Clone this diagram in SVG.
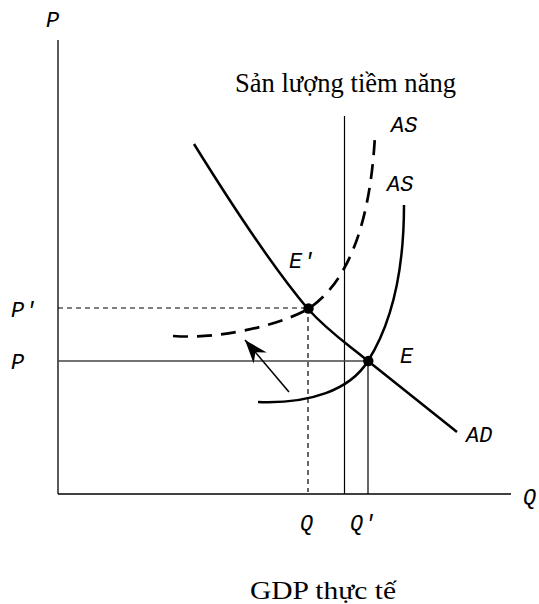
<svg xmlns="http://www.w3.org/2000/svg" width="539" height="604" viewBox="0 0 539 604">
<defs>
<style>
.ax{stroke:#000;stroke-width:1.3;fill:none}
.thin{stroke:#000;stroke-width:1.2;fill:none}
.dsh{stroke:#000;stroke-width:1.2;fill:none;stroke-dasharray:5 4}
.crv{stroke:#000;stroke-width:2.5;fill:none;stroke-linecap:butt}
.crvd{stroke:#000;stroke-width:2.7;fill:none;stroke-dasharray:15 9}
.lbl{font-family:"Liberation Mono","Courier New",monospace;font-style:italic;font-size:22px;fill:#000}
.ser{font-family:"Liberation Serif","Times New Roman",serif;fill:#000}
</style>
<marker id="ah" markerUnits="userSpaceOnUse" markerWidth="30" markerHeight="30" refX="0" refY="0" viewBox="-24 -12 28 24" orient="auto">
<path d="M0,0 L-22,-8 L-15,0 L-22,8 Z" fill="#000"/>
</marker>
</defs>
<g id="axes">
<line class="ax" x1="58" y1="40" x2="58" y2="494"/>
<line class="ax" x1="58" y1="494" x2="511" y2="494"/>
<text class="lbl" x="46" y="27">P</text>
<text class="lbl" x="523" y="504">Q</text>
</g>
<g id="potential">
<line class="thin" x1="344.5" y1="116" x2="344.5" y2="494"/>
<text class="ser" x="235" y="92" font-size="27" textLength="221" lengthAdjust="spacingAndGlyphs">Sản lượng tiềm năng</text>
</g>
<g id="connectors">
<line class="dsh" x1="58" y1="308" x2="308" y2="308"/>
<line class="dsh" x1="308" y1="308" x2="308" y2="492"/>
<line x1="58" y1="361" x2="368" y2="361" stroke="#444" stroke-width="1.6"/>
<line class="thin" x1="368" y1="361" x2="368" y2="494"/>
<line x1="289" y1="392" x2="245" y2="340" stroke="#000" stroke-width="1.6" marker-end="url(#ah)"/>
</g>
<g id="AD">
<path class="crv" d="M194,144 C235,210 275,270 308,309 C330,333 345,342 368,361 L457,432"/>
<text class="lbl" x="466" y="442">AD</text>
</g>
<g id="AS2">
<path class="crvd" d="M173,336 C230,340 290,320 308,309 C345,285 370,230 375,135"/>
<text class="lbl" x="391" y="132">AS</text>
</g>
<g id="AS1">
<path class="crv" d="M258,402 C310,404 350,390 368,361 C395,318 404,260 404,205"/>
<text class="lbl" x="387" y="191">AS</text>
</g>
<g id="Eprime">
<circle cx="308.5" cy="308.5" r="5.2" fill="#000"/>
<text class="lbl" x="289" y="268">E′</text>
<text class="lbl" x="11" y="317">P′</text>
<text class="lbl" x="300" y="530">Q</text>
</g>
<g id="E">
<circle cx="368.3" cy="361" r="5.2" fill="#000"/>
<text class="lbl" x="400" y="363">E</text>
<text class="lbl" x="11" y="369">P</text>
<text class="lbl" x="350" y="530">Q′</text>
</g>
<g id="xlabel">
<text class="ser" x="250" y="599" font-size="26" textLength="146" lengthAdjust="spacingAndGlyphs">GDP thực tế</text>
</g>
</svg>
